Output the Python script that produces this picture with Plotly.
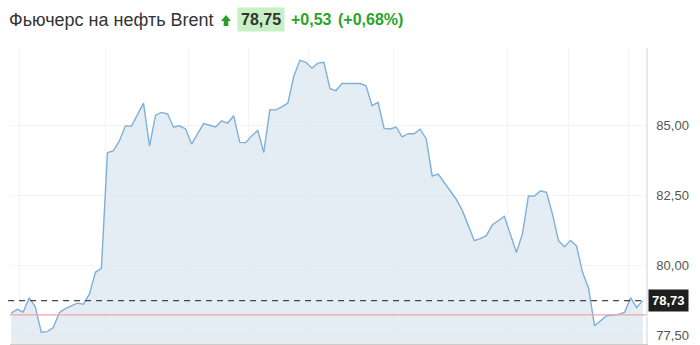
import plotly.graph_objects as go

# ---- data ----
prices = [
    78.28, 78.42, 78.32, 78.83, 78.51, 77.60, 77.62, 77.77, 78.30, 78.44,
    78.54, 78.64, 78.60, 78.96, 79.74, 79.88, 84.01, 84.08, 84.44, 84.97,
    84.96, 85.36, 85.78, 84.25, 85.35, 85.45, 85.40, 84.92, 84.97, 84.86,
    84.32, 84.69, 85.05, 84.99, 84.93, 85.15, 85.07, 85.33, 84.38, 84.37,
    84.62, 84.80, 84.02, 85.55, 85.54, 85.65, 85.78, 86.75, 87.31, 87.24,
    87.03, 87.21, 87.24, 86.30, 86.23, 86.48, 86.48, 86.48, 86.48, 86.40,
    85.69, 85.81, 84.88, 84.86, 84.93, 84.58, 84.69, 84.69, 84.85, 84.51,
    83.18, 83.25, 82.95, 82.68, 82.35, 81.95, 81.43, 80.87, 80.94, 81.05,
    81.43, 81.57, 81.74, 81.10, 80.45, 81.11, 82.47, 82.46, 82.65, 82.60,
    81.82, 80.87, 80.65, 80.88, 80.68, 79.74, 79.17, 77.83, 78.01, 78.19,
    78.21, 78.24, 78.32, 78.83, 78.48, 78.73,
]
x_idx = list(range(len(prices)))
current_price = 78.73
prev_close = 78.22
y_tick_vals = [77.5, 80.0, 82.5, 85.0]
y_tick_text = ["77,50", "80,00", "82,50", "85,00"]
x_grid_vals = [1.33, 15.6, 29.4, 39.4, 49.4, 63.5, 82.6, 92.6, 102.6]

title_name = "Фьючерс на нефть Brent"
title_price = "78,75"
title_change = "+0,53"
title_pct = "(+0,68%)"
last_label = "78,73"

W, H = 700, 345
ML, MR, MT, MB = 10, 54, 48, 1
PW, PH = W - ML - MR, H - MT - MB


def px(xp):
    return (xp - ML) / PW


def py(yp):
    return (H - MB - yp) / PH


fig = go.Figure()
fig.add_trace(go.Scatter(
    x=x_idx, y=prices, mode="lines",
    line=dict(color="#7eb0d8", width=1.4),
    fill="tozeroy", fillcolor="rgba(219,230,240,0.75)",
    hoverinfo="skip", showlegend=False,
))

# previous close (red) and current (dashed) lines
fig.add_shape(type="line", xref="paper", yref="y", x0=0, x1=1,
              y0=prev_close, y1=prev_close,
              line=dict(color="#f3a3a3", width=1.2))
fig.add_shape(type="line", xref="paper", yref="y", x0=-0.003, x1=1,
              y0=current_price, y1=current_price,
              line=dict(color="#444444", width=1.2, dash="6px,5px"))

# green up arrow in the title
arrow_pts = [(221, 21), (226, 15), (231, 21), (228.3, 21), (228.3, 26),
             (223.7, 26), (223.7, 21)]
path = "M " + " L ".join(f"{px(a):.5f},{py(b):.5f}" for a, b in arrow_pts) + " Z"
fig.add_shape(type="path", xref="paper", yref="paper", path=path,
              fillcolor="#2a9d2a", line=dict(width=0))

annotations = [
    dict(text=title_name, x=px(7), y=py(20), xref="paper", yref="paper",
         xanchor="left", yanchor="middle", showarrow=False,
         font=dict(family="Liberation Sans, Arial", size=18, color="#333333")),
    dict(text="<b>" + title_price + "</b>", x=px(237), y=py(19.5), xref="paper", yref="paper",
         xanchor="left", yanchor="middle", showarrow=False,
         bgcolor="#c9f0c4", borderpad=3,
         font=dict(family="Liberation Sans, Arial", size=16, color="#333333")),
    dict(text="<b>" + title_change + "</b>", x=px(289), y=py(19.5), xref="paper", yref="paper",
         xanchor="left", yanchor="middle", showarrow=False,
         font=dict(family="Liberation Sans, Arial", size=16, color="#2aa32a")),
    dict(text="<b>" + title_pct + "</b>", x=px(336), y=py(19.5), xref="paper", yref="paper",
         xanchor="left", yanchor="middle", showarrow=False,
         font=dict(family="Liberation Sans, Arial", size=16, color="#2aa32a")),
    dict(text="<b>" + last_label + "</b>", x=px(648), y=current_price, xref="paper", yref="y",
         xanchor="left", yanchor="middle", showarrow=False,
         bgcolor="#1e1e1e", borderpad=3,
         font=dict(family="Liberation Sans, Arial", size=13, color="#ffffff")),
]

fig.update_layout(
    width=W, height=H,
    margin=dict(l=ML, r=MR, t=MT, b=MB),
    paper_bgcolor="white", plot_bgcolor="white",
    annotations=annotations,
    xaxis=dict(range=[-0.2, 105.55], tickvals=x_grid_vals, showticklabels=False,
               ticks="", showgrid=True, gridcolor="#f3f4f6", gridwidth=1,
               zeroline=False, showline=True, linecolor="#cccccc", linewidth=1.5,
               fixedrange=True),
    yaxis=dict(range=[77.18, 87.75], side="right", tickvals=y_tick_vals,
               ticktext=y_tick_text, showgrid=True, gridcolor="#f3f4f6",
               zeroline=False, showline=True, linecolor="#e6eaf0", linewidth=1.5,
               ticks="", ticklabelstandoff=6,
               tickfont=dict(family="Liberation Sans, Arial", size=13, color="#555555"),
               fixedrange=True),
)

fig.write_html("out.html", config={"displayModeBar": False})
